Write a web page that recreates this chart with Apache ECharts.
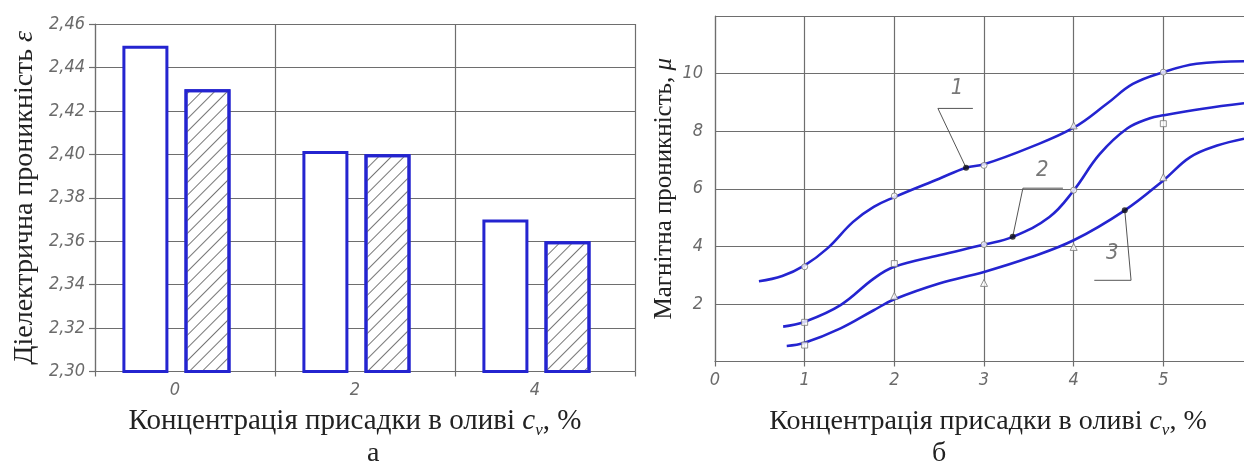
<!DOCTYPE html>
<html>
<head>
<meta charset="utf-8">
<script src="https://cdn.jsdelivr.net/npm/echarts@6/dist/echarts.min.js"></script>
<style>
html,body{margin:0;padding:0;background:#fff;overflow:hidden;}
#c{width:1244px;height:468px;}
</style>
</head>
<body>
<div id="c"></div>
<script>
// ---- chart (а): bar chart data ----
const barCategories = ['0', '2', '4'];
const barOpen = [2.45, 2.4015, 2.37];
const barHatched = [2.43, 2.40, 2.36];
const barTicks = [2.30, 2.32, 2.34, 2.36, 2.38, 2.40, 2.42, 2.44, 2.46];

// ---- chart (б): curves ----
const curve1X = [0.49, 0.75, 1.0, 1.25, 1.54, 1.77, 2.0, 2.5, 2.8, 3.0, 3.5, 4.0, 4.37, 4.66, 5.0, 5.37, 5.9];
const curve1Y = [2.79, 2.97, 3.34, 3.92, 4.85, 5.37, 5.71, 6.35, 6.73, 6.85, 7.42, 8.12, 8.95, 9.64, 10.05, 10.34, 10.43];
const curve2X = [0.76, 1.0, 1.4, 1.77, 2.0, 2.5, 3.0, 3.32, 3.73, 4.0, 4.29, 4.6, 4.85, 5.0, 5.44, 5.9];
const curve2Y = [1.21, 1.38, 1.96, 2.88, 3.29, 3.69, 4.06, 4.33, 5.02, 5.94, 7.2, 8.1, 8.45, 8.55, 8.78, 8.97];
const curve3X = [0.8, 1.0, 1.4, 1.77, 2.0, 2.5, 3.0, 3.5, 4.0, 4.57, 5.0, 5.3, 5.6, 5.9];
const curve3Y = [0.54, 0.65, 1.15, 1.78, 2.16, 2.71, 3.11, 3.6, 4.21, 5.25, 6.29, 7.1, 7.5, 7.74];

// experimental points (open markers)
const openCircles = [[1, 3.29], [2, 5.75], [3, 6.81], [5, 10.05], [3, 4.06], [4, 5.95]];
const openSquares = [[1, 1.36], [2, 3.4], [5, 8.26], [1, 0.57]];
const openTriangles = [[4, 8.2], [2, 2.28], [3, 2.73], [4, 3.98], [5, 6.4]];
// points where the curve labels point
const filledDots = [[2.8, 6.73], [3.32, 4.33], [4.57, 5.25]];
const curveLabels = ['1', '2', '3'];
const labelPos = [[2.70, 9.48], [3.65, 6.64], [4.43, 3.77]];
const leader1 = [[2.876, 8.79], [2.486, 8.79], [2.80, 6.73]];
const leader2 = [[3.88, 6.02], [3.434, 6.02], [3.32, 4.33]];
const leader3 = [[4.23, 2.82], [4.64, 2.82], [4.57, 5.25]];

const xTicksB = [0, 1, 2, 3, 4, 5, 6];
const yTicksB = [0, 2, 4, 6, 8, 10, 12];

const zip = (xs, ys) => xs.map((x, i) => [x, ys[i]]);

const BLUE = '#2424d0';
const GRID = '#6e6e6e';
const tickFont = {
  fontFamily: "'Liberation Sans Narrow', 'DejaVu Sans Condensed', 'DejaVu Sans', sans-serif",
  fontStyle: 'italic',
  fontSize: 18,
  color: '#6a6a6a'
};
const serif = "'Liberation Serif', 'DejaVu Serif', serif";
function richName(fs) {
  return {
    t: { fontFamily: serif, fontSize: fs, color: '#222', lineHeight: 36 },
    i: { fontFamily: serif, fontStyle: 'italic', fontSize: fs, color: '#222', lineHeight: 36 },
    s: { fontFamily: serif, fontStyle: 'italic', fontSize: Math.round(fs * 0.6), color: '#222', lineHeight: 36, verticalAlign: 'bottom' }
  };
}
const xName = '{t|Концентрація присадки в оливі }{i|c}{s|v}{t|, %}';

const lineStyleGrid = { color: GRID, width: 1.2 };

const chart = echarts.init(document.getElementById('c'), null, { renderer: 'canvas' });
chart.setOption({
  animation: false,
  backgroundColor: '#fff',
  grid: [
    { left: 95, top: 24, width: 540, height: 347.5, outerBoundsMode: 'none', containLabel: false },
    { left: 715, top: 16, width: 538, height: 345.5, outerBoundsMode: 'none', containLabel: false }
  ],
  xAxis: [
    {
      gridIndex: 0, type: 'category', data: barCategories,
      axisLine: { lineStyle: lineStyleGrid },
      axisTick: { show: true, length: 5, lineStyle: lineStyleGrid },
      splitLine: { show: true, lineStyle: lineStyleGrid },
      axisLabel: Object.assign({ margin: 10, padding: [0, 20, 0, 0] }, tickFont),
      name: xName, nameLocation: 'middle', nameGap: 32,
      nameTextStyle: { rich: richName(29), padding: [0, 20, 0, 0] }
    },
    {
      gridIndex: 1, type: 'value', min: xTicksB[0], max: xTicksB[xTicksB.length - 1], interval: 1,
      axisLine: { lineStyle: lineStyleGrid },
      axisTick: { show: true, length: 5, lineStyle: lineStyleGrid },
      splitLine: { show: true, lineStyle: lineStyleGrid },
      axisLabel: Object.assign({ margin: 10, formatter: v => (v >= 6 ? '' : String(v)) }, tickFont),
      name: xName, nameLocation: 'middle', nameGap: 42,
      nameTextStyle: { rich: richName(28), padding: [0, 0, 0, 8] }
    }
  ],
  yAxis: [
    {
      gridIndex: 0, type: 'value', min: barTicks[0], max: barTicks[barTicks.length - 1], interval: 0.02,
      axisLine: { show: true, lineStyle: lineStyleGrid },
      axisTick: { show: true, length: 6, lineStyle: lineStyleGrid },
      splitLine: { show: true, lineStyle: lineStyleGrid },
      axisLabel: Object.assign({ margin: 10, formatter: v => v.toFixed(2).replace('.', ',') }, tickFont),
      name: '{t|Діелектрична проникність }{i|ε}', nameLocation: 'middle', nameGap: 52,
      nameTextStyle: { rich: richName(28) }
    },
    {
      gridIndex: 1, type: 'value', min: yTicksB[0], max: yTicksB[yTicksB.length - 1], interval: 2,
      axisLine: { show: true, lineStyle: lineStyleGrid },
      axisTick: { show: false },
      splitLine: { show: true, lineStyle: lineStyleGrid },
      axisLabel: Object.assign({ margin: 12, formatter: v => (v === 0 || v === 12 ? '' : String(v)) }, tickFont),
      name: '{t|Магнітна проникність, }{i|μ}', nameLocation: 'middle', nameGap: 33,
      nameTextStyle: { rich: richName(25) }
    }
  ],
  graphic: [
    { type: 'text', left: 367, top: 440, style: { text: 'а', font: "28px 'Liberation Serif'", fill: '#222' } },
    { type: 'text', left: 932, top: 440, style: { text: 'б', font: "28px 'Liberation Serif'", fill: '#222' } }
  ],
  series: [
    {
      type: 'bar', xAxisIndex: 0, yAxisIndex: 0, data: barOpen,
      barWidth: 46, barGap: '35%',
      itemStyle: { color: '#fff', borderColor: BLUE, borderWidth: 3 }
    },
    {
      type: 'bar', xAxisIndex: 0, yAxisIndex: 0, data: barHatched,
      barWidth: 46,
      itemStyle: {
        color: '#fff', borderColor: BLUE, borderWidth: 3,
        decal: { symbol: 'rect', symbolSize: 1, dashArrayX: [1, 0], dashArrayY: [1, 8], rotation: -Math.PI / 4, color: '#777' }
      }
    },
    {
      // empty spacer column: shifts each pair of bars slightly left inside its category, as in the original
      type: 'bar', xAxisIndex: 0, yAxisIndex: 0, data: barCategories.map(() => '-'),
      barWidth: 1, silent: true, itemStyle: { color: 'rgba(0,0,0,0)' }
    },
    ...[[curve1X, curve1Y], [curve2X, curve2Y], [curve3X, curve3Y]].map(([xs, ys]) => ({
      type: 'line', xAxisIndex: 1, yAxisIndex: 1, data: zip(xs, ys),
      smooth: 0.4, symbol: 'none', silent: true,
      lineStyle: { color: BLUE, width: 2.6 }, z: 3
    })),
    ...[leader1, leader2, leader3].map(d => ({
      type: 'line', xAxisIndex: 1, yAxisIndex: 1, data: d,
      symbol: 'none', silent: true, lineStyle: { color: '#555', width: 1 }, z: 2
    })),
    {
      type: 'scatter', xAxisIndex: 1, yAxisIndex: 1, data: openCircles, symbol: 'circle', symbolSize: 6,
      itemStyle: { color: '#fff', borderColor: '#777', borderWidth: 1 }, z: 5
    },
    {
      type: 'scatter', xAxisIndex: 1, yAxisIndex: 1, data: openSquares, symbol: 'rect', symbolSize: 6,
      itemStyle: { color: '#fff', borderColor: '#777', borderWidth: 1 }, z: 5
    },
    {
      type: 'scatter', xAxisIndex: 1, yAxisIndex: 1, data: openTriangles, symbol: 'triangle', symbolSize: 7,
      itemStyle: { color: '#fff', borderColor: '#777', borderWidth: 1 }, z: 5
    },
    {
      type: 'scatter', xAxisIndex: 1, yAxisIndex: 1, data: filledDots, symbol: 'circle', symbolSize: 6,
      itemStyle: { color: '#111' }, z: 6
    },
    {
      type: 'scatter', xAxisIndex: 1, yAxisIndex: 1,
      data: labelPos.map((p, i) => [p[0], p[1], curveLabels[i]]),
      symbolSize: 0,
      label: {
        show: true, position: 'inside', formatter: p => p.value[2],
        fontFamily: tickFont.fontFamily, fontStyle: 'italic', fontSize: 22, color: '#555'
      }, z: 6
    }
  ]
});
</script>
</body>
</html>
